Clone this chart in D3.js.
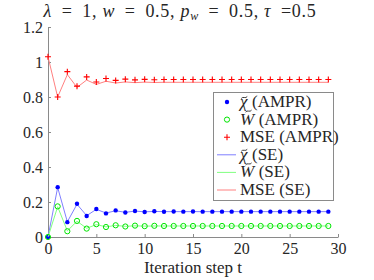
<!DOCTYPE html>
<html>
<head>
<meta charset="utf-8">
<script src="https://cdn.jsdelivr.net/npm/d3@7"></script>
<style>
  body { margin: 0; background: #fff; }
  svg text { font-family: "Liberation Serif", "Times New Roman", "DejaVu Serif", serif !important; fill: #262626; }
</style>
</head>
<body>
<div id="viz"></div>
<script>
let steps = d3.range(0, 30)

let chiAmpr = [0, 0.285, 0.085, 0.19, 0.12, 0.16, 0.135, 0.152, 0.14, 0.149, 0.143, 0.147, 0.144, 0.146, 0.145,
  0.146, 0.145, 0.145, 0.145, 0.145, 0.145, 0.145, 0.145, 0.145, 0.145, 0.145, 0.145, 0.145, 0.145, 0.145]
let chiSe = [0, 0.283, 0.087, 0.187, 0.122, 0.158, 0.137, 0.15, 0.141, 0.148, 0.144, 0.146, 0.145, 0.145, 0.145,
  0.145, 0.145, 0.145, 0.145, 0.145, 0.145, 0.145, 0.145, 0.145, 0.145, 0.145, 0.145, 0.145, 0.145, 0.145]
let wAmpr = [0, 0.175, 0.033, 0.092, 0.048, 0.073, 0.057, 0.067, 0.06, 0.065, 0.062, 0.064, 0.063, 0.063, 0.063,
  0.063, 0.063, 0.063, 0.063, 0.063, 0.063, 0.063, 0.063, 0.063, 0.063, 0.063, 0.063, 0.063, 0.063, 0.063]
let wSe = [0, 0.173, 0.035, 0.09, 0.05, 0.071, 0.058, 0.066, 0.061, 0.064, 0.062, 0.063, 0.063, 0.063, 0.063,
  0.063, 0.063, 0.063, 0.063, 0.063, 0.063, 0.063, 0.063, 0.063, 0.063, 0.063, 0.063, 0.063, 0.063, 0.063]
let mseAmpr = [1.03, 0.8, 0.945, 0.862, 0.915, 0.886, 0.906, 0.895, 0.902, 0.898, 0.901, 0.899, 0.9, 0.9, 0.9,
  0.9, 0.9, 0.9, 0.9, 0.9, 0.9, 0.9, 0.9, 0.9, 0.9, 0.9, 0.9, 0.9, 0.9, 0.9]
let mseSe = [1.03, 0.8, 0.928, 0.855, 0.897, 0.872, 0.89, 0.88, 0.886, 0.882, 0.885, 0.883, 0.884, 0.884, 0.884,
  0.884, 0.884, 0.884, 0.884, 0.884, 0.884, 0.884, 0.884, 0.884, 0.884, 0.884, 0.884, 0.884, 0.884, 0.884]

let xTicks = [0, 5, 10, 15, 20, 25, 30]
let yTicks = [0, 0.2, 0.4, 0.6, 0.8, 1, 1.2]

let serif = '"Liberation Serif", "Times New Roman", serif'

let svg = d3.select('#viz')
  .append('svg')
  .attr('width', 374)
  .attr('height', 280)

let x = d3.scaleLinear().domain([0, 30]).range([48, 338])
let y = d3.scaleLinear().domain([0, 1.2]).range([237, 27])

// axes, MATLAB style: ticks inward, box off
let xAxis = svg.append('g')
  .attr('transform', 'translate(0,237)')
  .call(d3.axisBottom(x).tickValues(xTicks).tickSizeInner(-3).tickSizeOuter(0).tickPadding(6).tickFormat(d3.format('d')))
let yAxis = svg.append('g')
  .attr('transform', 'translate(48,0)')
  .call(d3.axisLeft(y).tickValues(yTicks).tickSizeInner(-3).tickSizeOuter(0).tickPadding(5).tickFormat(d => String(d)))

;[xAxis, yAxis].forEach(a => {
  a.attr('font-family', serif).attr('font-size', 16)
  a.select('.domain').attr('stroke', '#8a8a8a')
  a.selectAll('.tick line').attr('stroke', '#8a8a8a')
  a.selectAll('.tick text').attr('fill', '#262626')
})

let series = [
  { ampr: chiAmpr, se: chiSe, color: '#0000ff', line: '#7f7fff', marker: 'dot' },
  { ampr: wAmpr, se: wSe, color: '#00e600', line: '#80ff80', marker: 'circle' },
  { ampr: mseAmpr, se: mseSe, color: '#ff0000', line: '#ff8080', marker: 'plus' }
]

let line = d3.line().x((d, i) => x(steps[i])).y(d => y(d))

function drawMarker(g, type, cx, cy, color) {
  if (type === 'dot') {
    g.append('circle').attr('cx', cx).attr('cy', cy).attr('r', 2.2).attr('fill', color)
  } else if (type === 'circle') {
    g.append('circle').attr('cx', cx).attr('cy', cy).attr('r', 2.6).attr('fill', 'none').attr('stroke', color).attr('stroke-width', 1)
  } else {
    g.append('path').attr('d', `M${cx - 3},${cy}H${cx + 3}M${cx},${cy - 3}V${cy + 3}`).attr('stroke', color).attr('stroke-width', 1.1)
  }
}

series.forEach(s => {
  svg.append('path')
    .attr('d', line(s.se))
    .attr('fill', 'none')
    .attr('stroke', s.line)
    .attr('stroke-width', 1)
  let g = svg.append('g')
  s.ampr.forEach((v, i) => drawMarker(g, s.marker, x(steps[i]), y(v), s.color))
})

// title
let sp = '\u2002'
let title = svg.append('text')
  .attr('x', 180)
  .attr('y', 17)
  .attr('text-anchor', 'middle')
  .attr('font-family', serif)
  .attr('font-size', 18)
  .style('letter-spacing', '0.7px')
title.append('tspan').attr('font-style', 'italic').text('λ')
title.append('tspan').text(sp + '=' + sp + '1,\u2005')
title.append('tspan').attr('font-style', 'italic').text('w')
title.append('tspan').text(sp + '=' + sp + '0.5,\u2005')
title.append('tspan').attr('font-style', 'italic').text('p')
title.append('tspan').attr('font-style', 'italic').attr('dy', 3).attr('font-size', 12).text('w')
title.append('tspan').attr('dy', -3).text(sp + '=' + sp + '0.5,\u2005')
title.append('tspan').attr('font-style', 'italic').text('τ')
title.append('tspan').text(sp + '=0.5')

// x label
svg.append('text')
  .attr('x', 193)
  .attr('y', 273)
  .attr('text-anchor', 'middle')
  .attr('font-family', serif)
  .attr('font-size', 17)
  .text('Iteration step t')

// legend
let legendItems = [
  { sym: 'χ', lab: '(AMPR)', kind: 'marker', s: series[0] },
  { sym: 'W', lab: '(AMPR)', kind: 'marker', s: series[1] },
  { sym: null, lab: 'MSE (AMPR)', kind: 'marker', s: series[2] },
  { sym: 'χ', lab: '(SE)', kind: 'line', s: series[0] },
  { sym: 'W', lab: '(SE)', kind: 'line', s: series[1] },
  { sym: null, lab: 'MSE (SE)', kind: 'line', s: series[2] }
]

let legend = svg.append('g').attr('font-family', serif).attr('font-size', 17)
legend.append('rect')
  .attr('x', 213.5).attr('y', 92.5)
  .attr('width', 120).attr('height', 108)
  .attr('fill', '#fff')
  .attr('stroke', '#8a8a8a')
  .attr('stroke-width', 1)

legendItems.forEach((d, i) => {
  let cy = 102 + i * 17.6
  if (d.kind === 'marker') {
    drawMarker(legend, d.s.marker, 227, cy, d.s.color)
  } else {
    legend.append('line').attr('x1', 217).attr('x2', 236).attr('y1', cy).attr('y2', cy)
      .attr('stroke', d.s.line).attr('stroke-width', 1)
  }
  let xx = 240
  if (d.sym) {
    let s = legend.append('text').attr('x', xx).attr('y', cy + 5).attr('font-style', 'italic').text(d.sym)
    let w = s.node().getComputedTextLength()
    // tilde accent drawn as a small curve
    let tx = xx + w / 2 + (d.sym === 'W' ? 1.5 : 0.5)
    let ty = d.sym === 'W' ? cy - 8.5 : cy - 4.5
    legend.append('path')
      .attr('d', `M${tx - 3},${ty + 1}C${tx - 1.5},${ty - 1.5} ${tx + 1.5},${ty + 1.5} ${tx + 3},${ty - 1}`)
      .attr('fill', 'none')
      .attr('stroke', '#262626')
      .attr('stroke-width', 0.9)
    xx += w + 4.5
  }
  legend.append('text').attr('x', xx).attr('y', cy + 5).text(d.lab)
})
</script>
</body>
</html>
